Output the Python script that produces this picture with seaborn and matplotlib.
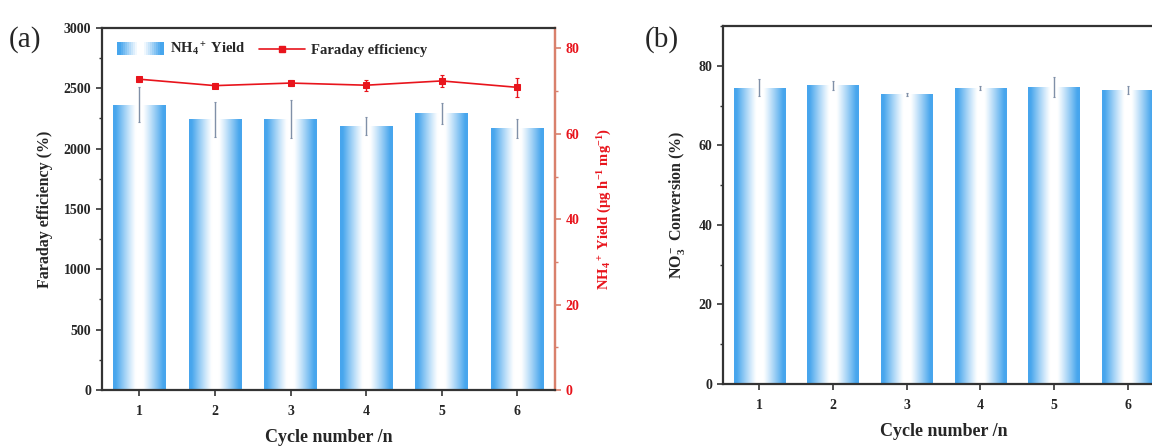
import numpy as np
import pandas as pd
import matplotlib
matplotlib.use("Agg")
import matplotlib.pyplot as plt
import seaborn as sns
from matplotlib.patches import Rectangle
from matplotlib.legend_handler import HandlerBase
from matplotlib.lines import Line2D
from matplotlib.ticker import MultipleLocator

# ---------------- data ----------------
cycles = ["1", "2", "3", "4", "5", "6"]
nh4_bar = [2362, 2243, 2246, 2185, 2292, 2168]
nh4_bar_err = [145, 146, 155, 75, 90, 80]
fe_line = [72.8, 71.3, 71.9, 71.4, 72.4, 70.9]
fe_line_err = [0.6, 0.6, 0.7, 1.3, 1.4, 2.3]
conversion = [74.5, 75.1, 72.8, 74.5, 74.7, 74.0]
conversion_err = [2.1, 1.2, 0.4, 0.5, 2.5, 1.0]

# ---------------- style ----------------
sns.set_theme(style="ticks")
plt.rcParams["font.family"] = ["Liberation Serif", "DejaVu Serif"]
plt.rcParams["font.weight"] = "bold"
plt.rcParams["mathtext.fontset"] = "custom"
plt.rcParams["mathtext.rm"] = "Liberation Serif:bold"
plt.rcParams["mathtext.it"] = "Liberation Serif:italic:bold"
plt.rcParams["mathtext.bf"] = "Liberation Serif:bold"
plt.rcParams["mathtext.default"] = "rm"

BLUE = np.array([0.28, 0.65, 0.93])
WHITE = np.array([1.0, 1.0, 1.0])
SPINE = "#333333"
RED = "#e8141c"
RED_SPINE = "#d9806c"
ERR_BLUE = "#8090a8"


def profile(n=200):
    t = np.linspace(0, 1, n)
    w = np.clip((np.abs(t - 0.5) - 0.07) / 0.38, 0, 1) ** 1.1
    cols = WHITE[None, :] * (1 - w[:, None]) + BLUE[None, :] * w[:, None]
    return cols


GRAD = profile()


def gradient_bars(ax):
    for p in ax.patches:
        x0, y0 = p.get_x(), p.get_y()
        w, h = p.get_width(), p.get_height()
        img = ax.imshow(GRAD[None, :, :], extent=[x0, x0 + w, y0, y0 + h],
                        aspect="auto", origin="lower", zorder=1,
                        interpolation="bilinear")
        img.set_clip_path(p)
        p.set_facecolor("none")
        p.set_edgecolor("none")


class GradHandler(HandlerBase):
    def create_artists(self, legend, orig_handle, xdescent, ydescent,
                       width, height, fontsize, trans):
        arts = []
        n = 24
        cols = profile(n)
        for i in range(n):
            r = Rectangle((-xdescent + width * i / n, -ydescent - 1),
                          width / n * 1.05, height + 2,
                          facecolor=cols[i], edgecolor="none", transform=trans)
            arts.append(r)
        return arts


def style_axes(ax, right_color=SPINE):
    for s in ["left", "bottom", "top"]:
        ax.spines[s].set_color(SPINE)
        ax.spines[s].set_linewidth(1.6)
    ax.spines["right"].set_color(right_color)
    ax.spines["right"].set_linewidth(1.6)
    ax.tick_params(axis="both", which="major", direction="out", length=4,
                   width=1.2, color=SPINE, labelsize=10, top=False, right=False)
    ax.tick_params(axis="x", which="major", pad=7)
    ax.tick_params(axis="y", which="minor", direction="out", length=2.5,
                   width=1.0, color=SPINE, right=False)
    for lab in ax.get_xticklabels() + ax.get_yticklabels():
        lab.set_fontweight("bold")


fig = plt.figure(figsize=(11.52, 4.48), dpi=100)

# ---------------- panel (a) ----------------
ax1 = fig.add_axes([0.0883, 0.1295, 0.3935, 0.808])
df_a = pd.DataFrame({"cycle": cycles, "yield": nh4_bar})
sns.barplot(data=df_a, x="cycle", y="yield", ax=ax1, width=0.7,
            errorbar=None, color="#4da6ec", zorder=1)
gradient_bars(ax1)
xpos = np.arange(len(cycles))
ax1.errorbar(xpos, nh4_bar, yerr=nh4_bar_err, fmt="none", ecolor=ERR_BLUE,
             elinewidth=1.0, capsize=1.0, capthick=0.8, zorder=3)
ax1.set_xlim(-0.5, 5.5)
ax1.set_ylim(0, 3000)
ax1.yaxis.set_major_locator(MultipleLocator(500))
ax1.yaxis.set_minor_locator(MultipleLocator(250))
ax1.set_xlabel("Cycle number /n", fontsize=13, fontweight="bold", labelpad=8)
ax1.set_ylabel("Faraday efficiency (%)", fontsize=11.5, fontweight="bold",
               labelpad=8)
style_axes(ax1, right_color=RED_SPINE)

ax2 = ax1.twinx()
sns.lineplot(x=xpos, y=fe_line, ax=ax2, color=RED, marker="s", markersize=5,
             markeredgecolor=RED, linewidth=1.2, zorder=4)
ax2.errorbar(xpos, fe_line, yerr=fe_line_err, fmt="none", ecolor=RED,
             elinewidth=1.0, capsize=1.5, capthick=0.8, zorder=4)
ax2.set_ylim(0, 84.8)
ax2.yaxis.set_major_locator(MultipleLocator(20))
ax2.yaxis.set_minor_locator(MultipleLocator(10))
for s in ["left", "bottom", "top"]:
    ax2.spines[s].set_visible(False)
ax2.spines["right"].set_color(RED_SPINE)
ax2.spines["right"].set_linewidth(1.6)
ax2.tick_params(axis="y", which="major", direction="out", length=4, width=1.2,
                color=RED_SPINE, labelcolor=RED, labelsize=10)
ax2.tick_params(axis="y", which="minor", direction="out", length=2.5, width=1.0,
                color=RED_SPINE)
for lab in ax2.get_yticklabels():
    lab.set_fontweight("bold")
ax2.set_ylabel(r"NH$_4$$^+$ Yield ($\mu$g h$^{-1}$ mg$^{-1}$)", color=RED,
               fontsize=10.5, fontweight="bold", labelpad=12)

bar_handle = Rectangle((0, 0), 1, 1)
line_handle = Line2D([], [], color=RED, marker="s", markersize=5, linewidth=1.2)
leg = ax1.legend([bar_handle, line_handle],
                 [r"NH$_4$$^+$ Yield", "Faraday efficiency"],
                 handler_map={Rectangle: GradHandler()},
                 loc="upper left", bbox_to_anchor=(0.005, 1.0), ncol=2,
                 frameon=False, handlelength=3.2, columnspacing=0.9,
                 handletextpad=0.4, prop={"weight": "bold", "size": 10.5})
ax1.set_zorder(ax2.get_zorder() + 1)
ax1.patch.set_visible(False)
if ax2.get_legend():
    ax2.get_legend().remove()

fig.text(0.008, 0.895, "(a)", fontsize=21, fontweight="normal")

# ---------------- panel (b) ----------------
ax3 = fig.add_axes([0.6273, 0.1429, 0.3836, 0.799])
df_b = pd.DataFrame({"cycle": cycles, "conv": conversion})
sns.barplot(data=df_b, x="cycle", y="conv", ax=ax3, width=0.7,
            errorbar=None, color="#4da6ec", zorder=1)
gradient_bars(ax3)
ax3.errorbar(xpos, conversion, yerr=conversion_err, fmt="none",
             ecolor=ERR_BLUE, elinewidth=1.0, capsize=1.0, capthick=0.8,
             zorder=3)
ax3.set_xlim(-0.5, 5.5)
ax3.set_ylim(0, 90)
ax3.yaxis.set_major_locator(MultipleLocator(20))
ax3.yaxis.set_minor_locator(MultipleLocator(10))
ax3.set_xlabel("Cycle number /n", fontsize=13, fontweight="bold", labelpad=8)
ax3.set_ylabel(r"NO$_3^-$ Conversion (%)", fontsize=11.5, fontweight="bold",
               labelpad=8)
style_axes(ax3)

fig.text(0.56, 0.895, "(b)", fontsize=21, fontweight="normal")

fig.savefig("out.png", dpi=100, facecolor="white")
